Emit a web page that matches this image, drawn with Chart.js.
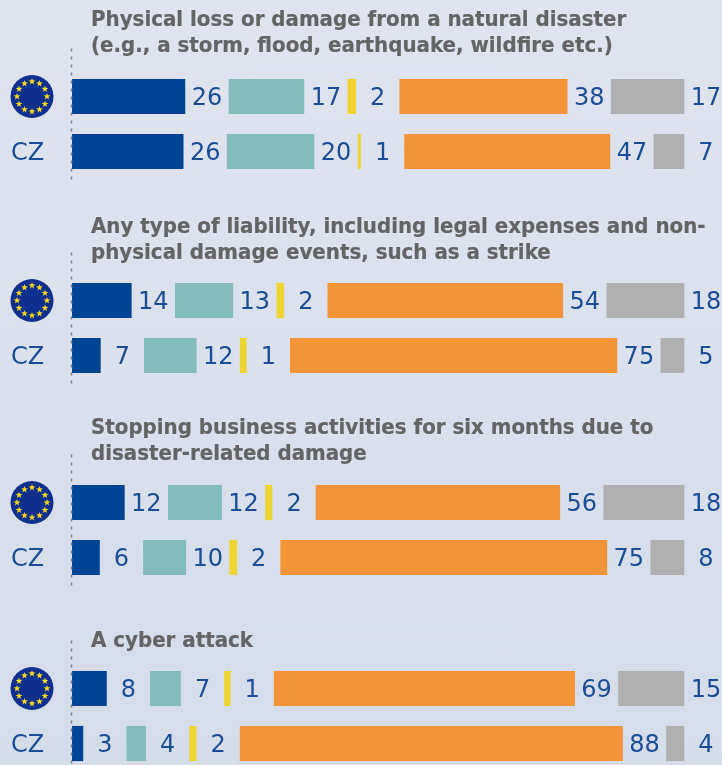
<!DOCTYPE html>
<html>
<head>
<meta charset="utf-8">
<script src="https://cdn.jsdelivr.net/npm/chart.js@4"></script>
<style>
  html, body { margin: 0; padding: 0; }
  body {
    width: 722px; height: 765px; overflow: hidden; position: relative;
    background: linear-gradient(#dfe4ef, #d5dcea);
  }
  .panel { position: absolute; left: 0; width: 722px; height: 175px; }
  .heading {
    position: absolute; left: 91px; white-space: nowrap; z-index: 2;
    font: bold 20.8px/26px "DejaVu Sans", sans-serif; color: #646464;
    -webkit-text-stroke: 0.2px #646464;
    transform: scaleX(0.954); transform-origin: left top;
  }
</style>
</head>
<body>
<script>
// rows of every block
var rows = ['EU', 'CZ'];

// share per answer: [EU row], [CZ row]
var physicalLoss = [[25.9, 17.2, 1.8, 38.4, 16.7], [25.5, 19.9, 0.6, 47.1, 6.9]];
var liability = [[13.6, 13.2, 1.6, 53.9, 17.7], [6.5, 11.9, 1.4, 74.9, 5.3]];
var stoppingBusiness = [[12.0, 12.2, 1.5, 55.9, 18.4], [6.3, 9.7, 1.6, 74.8, 7.6]];
var cyberAttack = [[7.9, 6.9, 1.3, 68.9, 15.0], [2.5, 4.3, 1.5, 87.7, 4.0]];

var blocks = [physicalLoss, liability, stoppingBusiness, cyberAttack];

var headings = [
  ['Physical loss or damage from a natural disaster', '(e.g., a storm, flood, earthquake, wildfire etc.)'],
  ['Any type of liability, including legal expenses and non-', 'physical damage events, such as a strike'],
  ['Stopping business activities for six months due to', 'disaster-related damage'],
  ['A cyber attack']
];

var answerColors = ['#004494', '#84bbbb', '#efd532', '#f29437', '#b0b0b0'];

// layout of the blocks on the page
var panelTops = [40, 244, 446, 632];
var headingTops = [6, 213, 414, 627];
var labelGap = 10.09;  // room for the number behind each bar, in axis units
var axisMax = 149.08;
var textColor = '#1b4d96';
var labelFont = '24px "DejaVu Sans", sans-serif';

function drawStar(ctx, x, y, r) {
  ctx.beginPath();
  for (var i = 0; i < 10; i++) {
    var a = -Math.PI / 2 + i * Math.PI / 5;
    var d = i % 2 ? r * 0.4 : r;
    ctx.lineTo(x + d * Math.cos(a), y + d * Math.sin(a));
  }
  ctx.closePath();
  ctx.fill();
}

var rowDecor = {
  id: 'rowDecor',
  afterDatasetsDraw: function(chart) {
    var ctx = chart.ctx;
    var area = chart.chartArea;

    // dotted base line, it runs over the bars
    ctx.save();
    ctx.strokeStyle = '#7d7f86';
    ctx.lineWidth = 1.5;
    ctx.setLineDash([3, 5]);
    ctx.beginPath();
    ctx.moveTo(area.left - 0.5, area.top - 20.5);
    ctx.lineTo(area.left - 0.5, area.bottom + 5);
    ctx.stroke();
    ctx.restore();

    // EU flag in place of the first tick label
    var fy = chart.scales.y.getPixelForValue(0);
    ctx.save();
    ctx.fillStyle = '#0e2f8e';
    ctx.beginPath();
    ctx.arc(32, fy, 21.5, 0, Math.PI * 2);
    ctx.fill();
    ctx.fillStyle = '#f7d81e';
    for (var s = 0; s < 12; s++) {
      var a = s * Math.PI / 6;
      drawStar(ctx, 32 + 15 * Math.cos(a), fy + 15 * Math.sin(a), 3.6);
    }
    ctx.restore();

    // numbers sit in the middle of the spacer after each bar
    ctx.save();
    ctx.font = labelFont;
    ctx.fillStyle = textColor;
    ctx.textAlign = 'center';
    ctx.textBaseline = 'middle';
    chart.data.datasets.forEach(function(ds, i) {
      if (!ds.isGap) return;
      var prev = chart.data.datasets[i - 1];
      chart.getDatasetMeta(i).data.forEach(function(bar, j) {
        var mid = (bar.base + bar.x) / 2;
        ctx.fillText(String(Math.round(prev.data[j])), mid, bar.y + 2);
      });
    });
    ctx.restore();
  }
};

function makeDatasets(block) {
  var sets = [];
  answerColors.forEach(function(color, i) {
    sets.push({
      data: block.map(function(row) { return row[i]; }),
      backgroundColor: color
    });
    sets.push({
      data: block.map(function() { return labelGap; }),
      backgroundColor: 'transparent',
      isGap: true
    });
  });
  return sets;
}

blocks.forEach(function(block, n) {
  var head = document.createElement('div');
  head.className = 'heading';
  head.style.top = headingTops[n] + 'px';
  head.innerHTML = headings[n].join('<br>');
  document.body.appendChild(head);

  var panel = document.createElement('div');
  panel.className = 'panel';
  panel.style.top = panelTops[n] + 'px';
  var canvas = document.createElement('canvas');
  panel.appendChild(canvas);
  document.body.appendChild(panel);

  new Chart(canvas, {
    type: 'bar',
    data: { labels: rows, datasets: makeDatasets(block) },
    plugins: [rowDecor],
    options: {
      indexAxis: 'y',
      responsive: true,
      maintainAspectRatio: false,
      animation: false,
      layout: { padding: { left: 11, top: 29, bottom: 36, right: 0 } },
      datasets: { bar: { barThickness: 34.5 } },
      plugins: { legend: { display: false }, tooltip: { enabled: false } },
      scales: {
        x: { stacked: true, display: false, min: 0, max: axisMax },
        y: {
          stacked: true,
          afterFit: function(axis) { axis.width = 61; },
          grid: { display: false },
          border: { display: false },
          ticks: {
            crossAlign: 'far',
            labelOffset: 2,
            color: textColor,
            font: { family: '"DejaVu Sans", sans-serif', size: 24 },
            callback: function(value) {
              var name = this.getLabelForValue(value);
              return name === 'EU' ? '' : name;
            }
          }
        }
      }
    }
  });
});
</script>
</body>
</html>
